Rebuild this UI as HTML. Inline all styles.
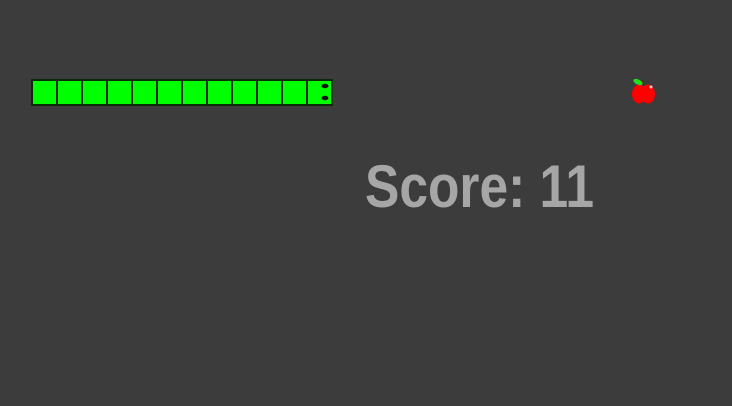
<!DOCTYPE html>
<html><head><meta charset="utf-8"><style>
html,body{margin:0;padding:0;background:#3c3c3c;width:732px;height:406px;overflow:hidden}
</style></head><body>
<svg width="732" height="406">
<rect width="732" height="406" fill="#3c3c3c"/>
<g id="snake"></g>
<g>
<ellipse cx="639" cy="94" rx="7" ry="9.5" fill="#ff0000"/>
<ellipse cx="648" cy="94" rx="7" ry="9.5" fill="#ff0000"/>
<path d="M643 85 L643 80" stroke="#5a2a00" stroke-width="1.5"/>
<ellipse cx="638" cy="82" rx="5" ry="2.5" fill="#22dd22" transform="rotate(25 638 82)"/>
<circle cx="651" cy="87" r="1.5" fill="#ffcccc"/>
</g>
<text x="365" y="207" textLength="229" lengthAdjust="spacingAndGlyphs" font-family="Liberation Sans, sans-serif" font-weight="bold" font-size="60" fill="#a6a6a6">Score: 11</text>
</svg>
<script>
const segmentCols=[0,1,2,3,4,5,6,7,8,9,10,11];
const g=document.getElementById('snake');
const ns='http://www.w3.org/2000/svg';
segmentCols.forEach((c,i)=>{
  const r=document.createElementNS(ns,'rect');
  r.setAttribute('x',32+c*25);r.setAttribute('y',80);
  r.setAttribute('width',25);r.setAttribute('height',25);
  r.setAttribute('fill','#00ff00');r.setAttribute('stroke','#0a2a0a');r.setAttribute('stroke-width','2');
  
  
  g.appendChild(r);
});
[86,98].forEach(y=>{
  const e=document.createElementNS(ns,'ellipse');
  e.setAttribute('cx',325);e.setAttribute('cy',y);e.setAttribute('rx',3.5);e.setAttribute('ry',2.2);
  e.setAttribute('fill','#111');
  
  
  g.appendChild(e);
});
</script>
</body></html>
